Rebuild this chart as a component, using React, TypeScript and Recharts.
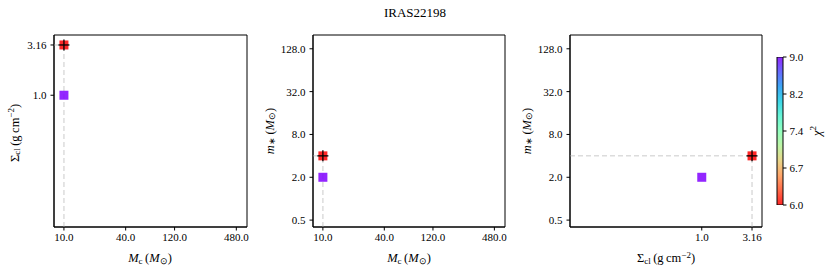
import React from 'react';
import {
  ScatterChart,
  ComposedChart,
  Scatter,
  Bar,
  XAxis,
  YAxis,
  ReferenceLine,
  ReferenceArea,
} from 'recharts';

// fitted models: core mass, clump surface density, stellar mass, chi^2
const mcValues = [10, 10];
const sigmaValues = [3.16, 1.0];
const mstarValues = [4.0, 2.0];
const chi2Values = [6.0, 9.0];

const mcTicks = [10, 40, 120, 480];
const sigmaTicks = [1.0, 3.16];
const mstarTicks = [0.5, 2, 8, 32, 128];
const chi2Ticks = [6, 6.75, 7.5, 8.25, 9];
const chi2TickLabels = ['6.0', '6.7', '7.4', '8.2', '9.0'];

const mcDomain = [8, 610];
const sigmaDomain = [0.049, 3.97];
const mstarDomain = [0.4, 200];

const FONT = '"Liberation Serif", "Times New Roman", serif';
const CHI2_MIN = chi2Ticks[0];
const CHI2_MAX = chi2Ticks[chi2Ticks.length - 1];

const points = mcValues.map((mc, i) => ({
  mc,
  sigma: sigmaValues[i],
  mstar: mstarValues[i],
  chi2: chi2Values[i],
}));
// worst first so the best fit sits on top
const drawOrder = [...points].sort((a, b) => b.chi2 - a.chi2);
const best = points.reduce((a, b) => (b.chi2 < a.chi2 ? b : a));

// matplotlib "rainbow", reversed
const rainbowR = (chi2: number) => {
  const t = (chi2 - CHI2_MIN) / (CHI2_MAX - CHI2_MIN);
  const x = 1 - Math.min(1, Math.max(0, t));
  const r = Math.min(1, Math.abs(2 * x - 0.5));
  const g = Math.sin(Math.PI * x);
  const b = Math.cos((Math.PI * x) / 2);
  const c = (v: number) => Math.round(Math.max(0, v) * 255);
  return `rgb(${c(r)},${c(g)},${c(b)})`;
};

const fmt = (v: number) => (Number.isInteger(v) ? v.toFixed(1) : String(v));

const Square = (props: any) => {
  const { cx, cy, payload } = props;
  if (cx == null || cy == null) return null;
  return (
    <rect x={cx - 4.5} y={cy - 4.5} width={9} height={9} fill={rainbowR(payload.chi2)} fillOpacity={0.85} />
  );
};

const Plus = (props: any) => {
  const { cx, cy } = props;
  if (cx == null || cy == null) return null;
  return (
    <g stroke="#000" strokeWidth={1.3}>
      <line x1={cx - 5.5} x2={cx + 5.5} y1={cy} y2={cy} />
      <line x1={cx} x2={cx} y1={cy - 5.5} y2={cy + 5.5} />
    </g>
  );
};

const tickStyle = { fill: '#000', fontSize: 11, fontFamily: FONT };
const axisStroke = { stroke: '#000', strokeWidth: 1 };

interface PanelProps {
  left: number;
  width: number;
  marginLeft: number;
  marginRight: number;
  xKey: 'mc' | 'sigma';
  yKey: 'sigma' | 'mstar';
  xDomain: number[];
  yDomain: number[];
  xTicks: number[];
  yTicks: number[];
}

const Panel = ({ left, width, marginLeft, marginRight, xKey, yKey, xDomain, yDomain, xTicks, yTicks }: PanelProps) => {
  const bx = best[xKey];
  const by = best[yKey];
  return (
    <div style={{ position: 'absolute', left, top: 0 }}>
      <ScatterChart width={width} height={272} margin={{ top: 35, right: marginRight, bottom: 15, left: marginLeft }}>
        <XAxis
          dataKey={xKey}
          type="number"
          scale="log"
          domain={xDomain}
          ticks={xTicks}
          allowDataOverflow
          tickFormatter={fmt}
          tick={tickStyle}
          tickLine={axisStroke}
          axisLine={axisStroke}
          tickSize={3.5}
          tickMargin={3}
          height={30}
          interval={0}
        />
        <YAxis
          dataKey={yKey}
          type="number"
          scale="log"
          domain={yDomain}
          ticks={yTicks}
          allowDataOverflow
          tickFormatter={fmt}
          tick={tickStyle}
          tickLine={axisStroke}
          axisLine={axisStroke}
          tickSize={3.5}
          tickMargin={4}
          width={40}
          interval={0}
        />
        {/* frame: the top and right spines */}
        <ReferenceArea
          x1={xDomain[0]}
          x2={xDomain[1]}
          y1={yDomain[0]}
          y2={yDomain[1]}
          fill="none"
          stroke="#000"
          strokeWidth={1}
          ifOverflow="visible"
        />
        <ReferenceLine
          segment={[{ x: bx, y: yDomain[0] }, { x: bx, y: by }]}
          stroke="#dcdcdc"
          strokeWidth={1.5}
          strokeDasharray="5 3"
          ifOverflow="visible"
        />
        <ReferenceLine
          segment={[{ x: xDomain[0], y: by }, { x: bx, y: by }]}
          stroke="#dcdcdc"
          strokeWidth={1.5}
          strokeDasharray="5 3"
          ifOverflow="visible"
        />
        <Scatter data={drawOrder} shape={Square} isAnimationActive={false} />
        <Scatter data={[best]} shape={Plus} isAnimationActive={false} />
      </ScatterChart>
    </div>
  );
};

const gradStops = Array.from({ length: 11 }, (_, i) => i / 10);
const colorBarData = [{ name: 'chi2', range: [CHI2_MIN, CHI2_MAX] }];

const ColorBar = () => (
  <div style={{ position: 'absolute', left: 770, top: 0 }}>
    <ComposedChart
      width={61}
      height={272}
      data={colorBarData}
      barCategoryGap={0}
      margin={{ top: 57, right: 18, bottom: 67, left: 7 }}
    >
      <defs>
        <linearGradient id="cbGrad" x1="0" y1="1" x2="0" y2="0">
          {gradStops.map((s) => (
            <stop key={s} offset={s} stopColor={rainbowR(CHI2_MIN + s * (CHI2_MAX - CHI2_MIN))} stopOpacity={0.85} />
          ))}
        </linearGradient>
      </defs>
      <XAxis dataKey="name" type="category" hide />
      <YAxis
        orientation="right"
        type="number"
        domain={[CHI2_MIN, CHI2_MAX]}
        allowDataOverflow
        ticks={chi2Ticks}
        interval={0}
        tickFormatter={(v: number) => chi2TickLabels[chi2Ticks.indexOf(v)]}
        tick={tickStyle}
        tickLine={axisStroke}
        axisLine={false}
        tickSize={3.5}
        tickMargin={3}
        width={30}
      />
      <Bar dataKey="range" fill="url(#cbGrad)" stroke="#000" strokeWidth={1} isAnimationActive={false} />
    </ComposedChart>
  </div>
);

const labelStyle = { fontFamily: FONT, fontSize: 12.5, fill: '#000' };
const SUB = 9;

const McLabel = ({ x, y }: { x: number; y: number }) => (
  <text x={x} y={y} textAnchor="middle" style={labelStyle}>
    <tspan fontStyle="italic">M</tspan>
    <tspan fontSize={SUB} dy={2}>c</tspan>
    <tspan dy={-2}>{'\u2009('}</tspan>
    <tspan fontStyle="italic">M</tspan>
    <tspan fontSize={SUB} dy={2}>{'\u2299'}</tspan>
    <tspan dy={-2}>)</tspan>
  </text>
);

const SigmaLabel = ({ x, y, rotate }: { x: number; y: number; rotate?: boolean }) => (
  <text
    x={x}
    y={y}
    textAnchor="middle"
    dominantBaseline={rotate ? 'central' : undefined}
    transform={rotate ? `rotate(-90 ${x} ${y})` : undefined}
    style={labelStyle}
  >
    <tspan>{'\u03A3'}</tspan>
    <tspan fontSize={SUB} dy={2}>cl</tspan>
    <tspan dy={-2}>{'\u2009(g\u2009cm'}</tspan>
    <tspan fontSize={SUB} dy={-4.5}>{'\u22122'}</tspan>
    <tspan dy={4.5}>)</tspan>
  </text>
);

const MstarLabel = ({ x, y }: { x: number; y: number }) => (
  <text
    x={x}
    y={y}
    textAnchor="middle"
    dominantBaseline="central"
    transform={`rotate(-90 ${x} ${y})`}
    style={labelStyle}
  >
    <tspan fontStyle="italic">m</tspan>
    <tspan fontSize={SUB} dy={2}>{'\u2217'}</tspan>
    <tspan dy={-2}>{'\u2009('}</tspan>
    <tspan fontStyle="italic">M</tspan>
    <tspan fontSize={SUB} dy={2}>{'\u2299'}</tspan>
    <tspan dy={-2}>)</tspan>
  </text>
);

export default function App() {
  return (
    <div
      style={{
        position: 'absolute',
        left: 0,
        top: 0,
        width: 831,
        height: 272,
        background: '#fff',
        fontFamily: FONT,
      }}
    >
      <Panel
        left={0}
        width={260}
        marginLeft={14}
        marginRight={13}
        xKey="mc"
        yKey="sigma"
        xDomain={mcDomain}
        yDomain={sigmaDomain}
        xTicks={mcTicks}
        yTicks={sigmaTicks}
      />
      <Panel
        left={270}
        width={250}
        marginLeft={3}
        marginRight={15}
        xKey="mc"
        yKey="mstar"
        xDomain={mcDomain}
        yDomain={mstarDomain}
        xTicks={mcTicks}
        yTicks={mstarTicks}
      />
      <Panel
        left={530}
        width={240}
        marginLeft={0}
        marginRight={8}
        xKey="sigma"
        yKey="mstar"
        xDomain={sigmaDomain}
        yDomain={mstarDomain}
        xTicks={sigmaTicks}
        yTicks={mstarTicks}
      />
      <ColorBar />
      <svg width={831} height={272} style={{ position: 'absolute', left: 0, top: 0, pointerEvents: 'none' }}>
        <text x={415} y={17} textAnchor="middle" style={{ fontFamily: FONT, fontSize: 13, fill: '#000' }}>
          IRAS22198
        </text>
        <McLabel x={150} y={262} />
        <McLabel x={409} y={262} />
        <SigmaLabel x={666} y={262} />
        <SigmaLabel x={15} y={133} rotate />
        <MstarLabel x={270} y={131} />
        <MstarLabel x={527} y={131} />
        <text
          x={817}
          y={131}
          textAnchor="middle"
          dominantBaseline="central"
          transform="rotate(-90 817 131)"
          style={labelStyle}
        >
          <tspan fontStyle="italic">{'\u03C7'}</tspan>
          <tspan fontSize={SUB} dy={-4.5}>2</tspan>
        </text>
      </svg>
    </div>
  );
}
